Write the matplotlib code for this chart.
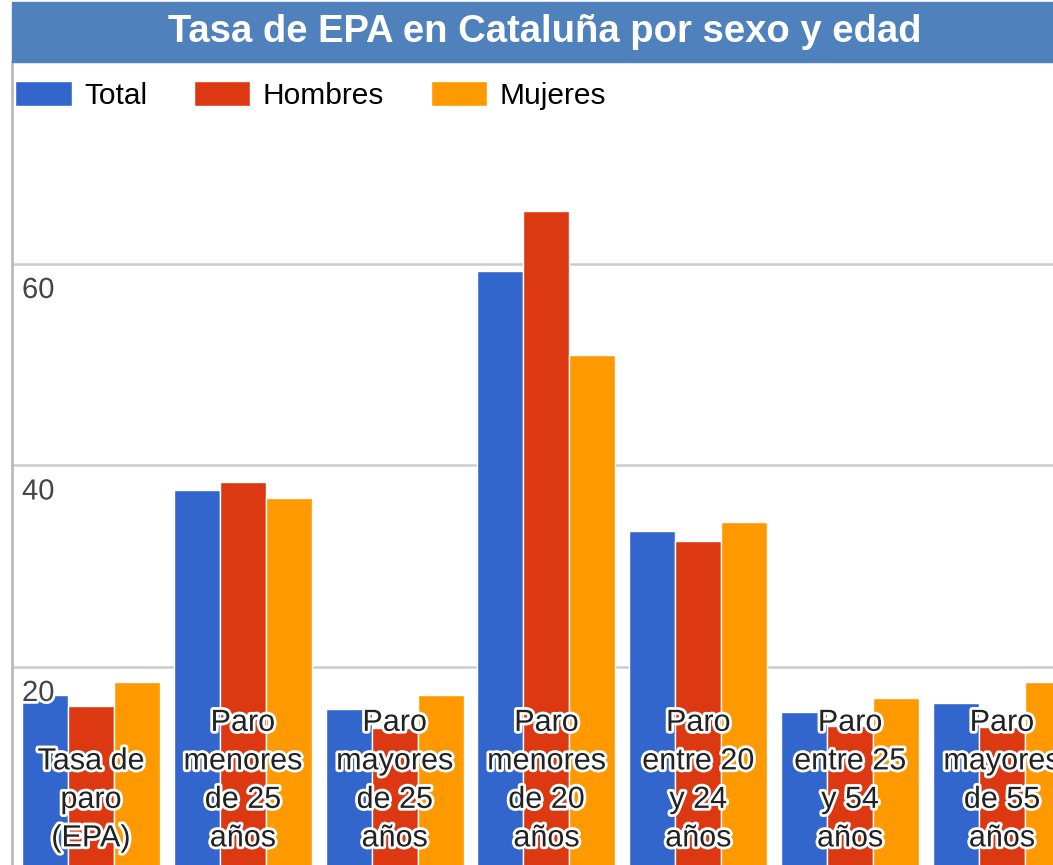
import numpy as np
import matplotlib.pyplot as plt
import matplotlib.patheffects as pe
from matplotlib.patches import Rectangle

plt.rcParams['font.family'] = ['Liberation Sans', 'DejaVu Sans']

categorias = ["Tasa de\nparo\n(EPA)", "Paro\nmenores\nde 25\naños", "Paro\nmayores\nde 25\naños",
              "Paro\nmenores\nde 20\naños", "Paro\nentre 20\ny 24\naños", "Paro\nentre 25\ny 54\naños",
              "Paro\nmayores\nde 55\naños"]
total = [17.2, 37.6, 15.8, 59.3, 33.5, 15.5, 16.4]
hombres = [16.1, 38.4, 13.9, 65.3, 32.5, 14.1, 14.0]
mujeres = [18.5, 36.8, 17.2, 51.0, 34.4, 16.9, 18.5]
series = ["Total", "Hombres", "Mujeres"]
colores = ["#3366CC", "#DC3912", "#FF9900"]
yticks = [20, 40, 60]

W, H = 1053, 865
fig = plt.figure(figsize=(W / 100, H / 100), dpi=100)
ax = fig.add_axes([12 / W, (H - 868.5) / H, (W - 12) / W, (868.5 - 62.5) / H])
ax.set_ylim(0, 80)
ax.set_xlim(-0.52, 6.337)

halo = [pe.withStroke(linewidth=4, foreground="white")]

x = np.arange(len(categorias))
w = 0.303
for i, (vals, col, nom) in enumerate(zip([total, hombres, mujeres], colores, series)):
    ax.bar(x + (i - 1) * w, vals, w, color=col, edgecolor="white", linewidth=1, label=nom, zorder=2)

ax.set_yticks(yticks)
ax.set_yticklabels([])
ax.tick_params(length=0)
ax.set_xticks([])
ax.grid(axis="y", color="#cccccc", linewidth=1.8, zorder=0)
for s in ["top", "right", "bottom"]:
    ax.spines[s].set_visible(False)
ax.spines["left"].set_color("#bdbab4")
ax.spines["left"].set_linewidth(2)

# valores del eje dentro del área
for v in yticks:
    ax.annotate(str(v), xy=(0, v), xycoords=("axes fraction", "data"), xytext=(10, -12),
                textcoords="offset pixels", ha="left", va="top", fontsize=21,
                color="#444444", path_effects=halo, zorder=4)

# etiquetas de categoría sobre las barras
for xi, lab in zip(x, categorias):
    ax.text(xi, 1.5, lab, ha="center", va="bottom", fontsize=22, color="#222222",
            linespacing=1.37, path_effects=halo, zorder=5)

# barra del título
fig.patches.append(Rectangle((12 / W, (H - 62) / H), (W - 12) / W, 60 / H,
                             transform=fig.transFigure, color="#4F81BD", zorder=0))
fig.text(545 / W, (H - 32) / H, "Tasa de EPA en Cataluña por sexo y edad", ha="center",
         va="center", fontsize=27.5, fontweight="bold", color="white")

ax.legend(loc="upper left", bbox_to_anchor=(15 / W, (H - 81) / H), bbox_transform=fig.transFigure,
          ncol=3, frameon=False, fontsize=21.5, handlelength=1.9, handleheight=0.9,
          handletextpad=0.42, columnspacing=1.55, borderpad=0, borderaxespad=0)

fig.savefig("out.png", dpi=100)
